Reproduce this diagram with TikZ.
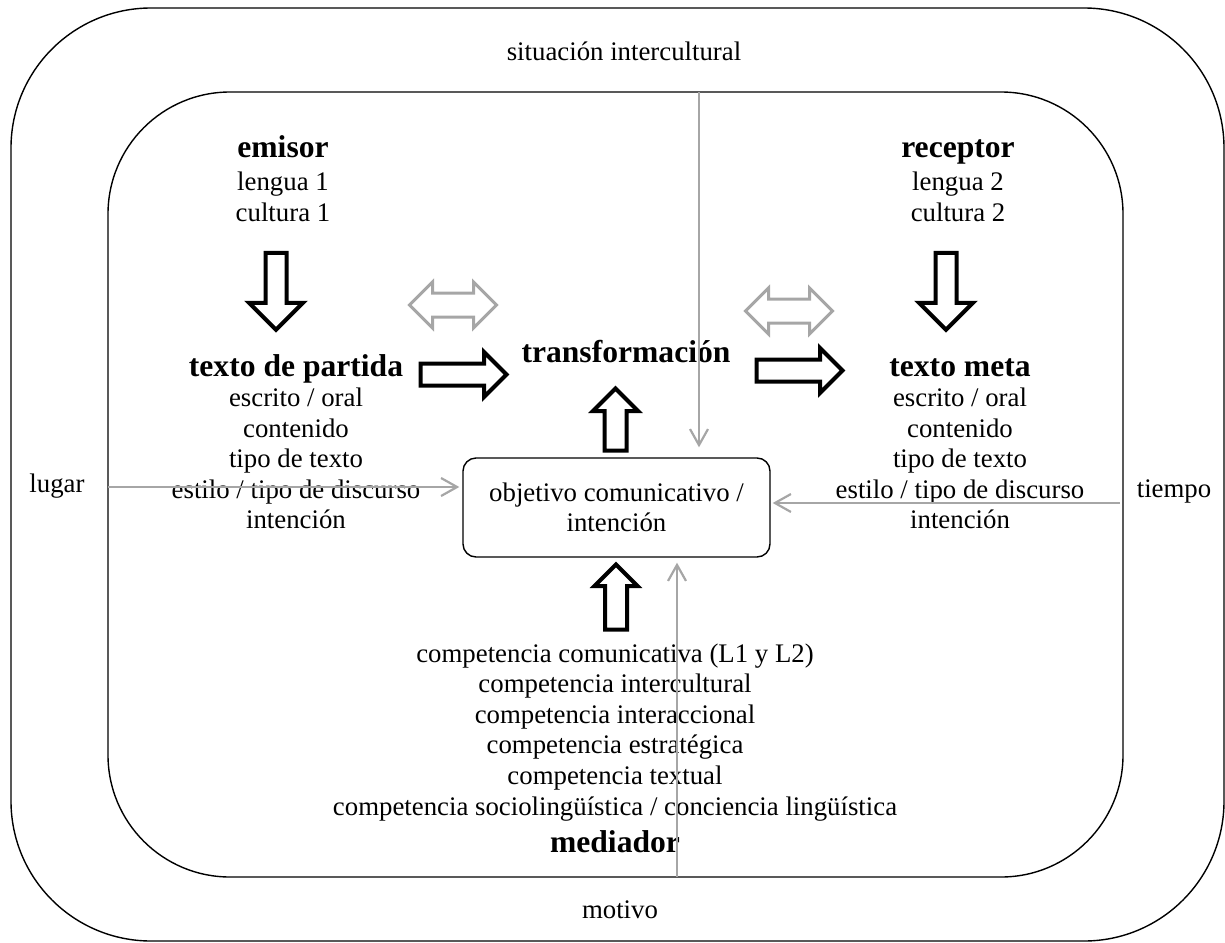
\documentclass[tikz,border=0pt]{standalone}
\usepackage{fontspec}
\setmainfont{Liberation Serif}
\usetikzlibrary{positioning,shapes.arrows,arrows.meta}
\definecolor{lightgr}{RGB}{166,166,166}

\begin{document}
\begin{tikzpicture}[x=0.5pt,y=-0.5pt]
      \tikzstyle{txt} = [anchor=base,inner sep=0pt,font=\fontsize{13.4}{15}\selectfont]
      \tikzstyle{head} = [anchor=base,inner sep=0pt,font=\fontsize{15.8}{18}\selectfont\bfseries]
      \tikzstyle{frame} = [draw,line width=0.7pt]
      \tikzstyle{blockarrow} = [draw,line width=2pt,fill=white,single arrow,inner xsep=0pt,minimum width=0pt,single arrow head indent=0pt]
      \tikzstyle{grayarrow} = [draw=lightgr,line width=1.5pt,double arrow,inner xsep=0pt,minimum width=0pt,minimum height=43.5pt,inner ysep=5.25pt,double arrow head extend=5.5pt,double arrow head indent=0pt]
      \tikzstyle{goalbox} = [draw,line width=0.7pt,rounded corners=6.5pt,minimum width=153.5pt,minimum height=49.5pt,align=center,inner sep=0pt,font=\fontsize{13.4}{15}\selectfont]
      \tikzstyle{conn} = [draw=lightgr,line width=1.1pt,-{Straight Barb[length=8pt,width=9pt]}]
      \useasboundingbox (0,0) rectangle (1225,942);
      % frames
      \draw[frame,rounded corners=70pt] (11,8) rectangle (1224,941);
      \draw[frame,rounded corners=61pt] (108,92) rectangle (1123,877);
      % outer labels
      \node[txt] (sit) at (624,60) {situación intercultural};
      \node[txt] (lugar) at (57,492) {lugar};
      \node[txt] (tiempo) at (1174,497) {tiempo};
      \node[txt] (motivo) at (620,918) {motivo};
      % emisor / receptor
      \node[head] (emisor) at (283,157) {emisor};
      \node[txt] (em1) at (283,190) {lengua 1};
      \node[txt] (em2) at (283,221) {cultura 1};
      \node[head] (receptor) at (958,157) {receptor};
      \node[txt] (re1) at (958,190) {lengua 2};
      \node[txt] (re2) at (958,221) {cultura 2};
      % texts
      \node[head] (partida) at (296,376) {texto de partida};
      \node[head] (meta) at (960,376) {texto meta};
      \node[head] (transf) at (626,362) {transformación};
      \foreach \t [count=\i] in {escrito / oral, contenido, tipo de texto, estilo / tipo de discurso, intención}{
        \node[txt] (tp\i) at (296,{376+30.5*\i}) {\t};
        \node[txt] (tm\i) at (960,{376+30.5*\i}) {\t};
      }
      \node[goalbox] (goal) at (616.5,507.5) {objetivo comunicativo /\\intención};
      % mediador
      \foreach \t [count=\i] in {competencia comunicativa (L1 y L2), competencia intercultural, competencia interaccional, competencia estratégica, competencia textual, competencia sociolingüística / conciencia lingüística}{
        \node[txt] (comp\i) at (615,{662+30.6*(\i-1)}) {\t};
      }
      \node[head] (mediador) at (615,852) {mediador};
      % block arrows
      \node[blockarrow,rotate=-90,minimum height=38.5pt,inner ysep=4.25pt,single arrow head extend=8.25pt] (emdown) at (276,286) {};
      \node[blockarrow,rotate=-90,minimum height=38.5pt,inner ysep=4.25pt,single arrow head extend=8.25pt] (redown) at (946,286) {};
      \node[blockarrow,minimum height=43pt,inner ysep=4.5pt,single arrow head extend=5.75pt] (toright1) at (458,374.5) {};
      \node[blockarrow,minimum height=43pt,inner ysep=4.5pt,single arrow head extend=5.75pt] (toright2) at (794,370.5) {};
      \node[blockarrow,rotate=90,minimum height=31pt,inner ysep=4.5pt,single arrow head extend=5.75pt] (goalup) at (615.5,425) {};
      \node[blockarrow,rotate=90,minimum height=32.5pt,inner ysep=4.5pt,single arrow head extend=5.25pt] (compup) at (616,602.5) {};
      \node[grayarrow] (both1) at (453,305) {};
      \node[grayarrow] (both2) at (789,311) {};
      % thin connectors
      \coordinate (sittop) at (699,92);
      \coordinate (medbot) at (677,877);
      \coordinate (lugleft) at (108,487);
      \coordinate (tiemright) at (1120,503);
      \draw[conn,shorten >=5pt] (sittop) -- (sittop |- goal.north);
      \draw[conn,shorten >=2.5pt] (medbot) -- (medbot |- goal.south);
      \draw[conn,shorten >=1.5pt] (lugleft) -- (lugleft -| goal.west);
      \draw[conn,shorten >=1pt] (tiemright) -- (tiemright -| goal.east);
    \end{tikzpicture}
\end{document}
